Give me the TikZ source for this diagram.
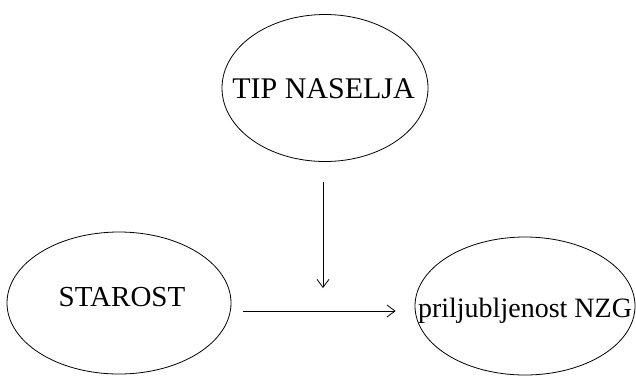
\documentclass[tikz,border=0pt]{standalone}
\usepackage{fontspec}
\setmainfont{Liberation Serif}
\usetikzlibrary{arrows.meta,shapes.geometric}
\tikzset{
  var/.style={draw, ellipse, line width=0.8pt, inner sep=0pt},
  conn/.style={line width=0.9pt, -{Straight Barb[length=8pt,width=12pt,line width=0.8pt]}}
}
\begin{document}
\begin{tikzpicture}[x=1pt,y=-1pt]
\useasboundingbox (0,0) rectangle (636,376);
\node[var, minimum width=206pt, minimum height=147pt,
  label={[font=\fontsize{30}{32}\selectfont, xshift=-1.5pt, yshift=-1pt]center:TIP NASELJA}] (tip) at (325,88) {};
\node[var, minimum width=224pt, minimum height=142pt,
  label={[font=\fontsize{29}{31}\selectfont, xshift=3pt, yshift=6pt]center:STAROST}] (star) at (119,303) {};
\node[var, minimum width=220pt, minimum height=138pt,
  label={[font=\fontsize{28}{30}\selectfont, yshift=-4.5pt]center:priljubljenost NZG}] (pri) at (525,306) {};
\coordinate (vend) at (323,288);
\coordinate (hy) at (0,311);
\draw[conn, shorten <=20pt] (tip.south -| vend) -- (vend);
\draw[conn, shorten <=12pt, shorten >=19pt] (star.east |- hy) -- (pri.west |- hy);
\end{tikzpicture}
\end{document}
